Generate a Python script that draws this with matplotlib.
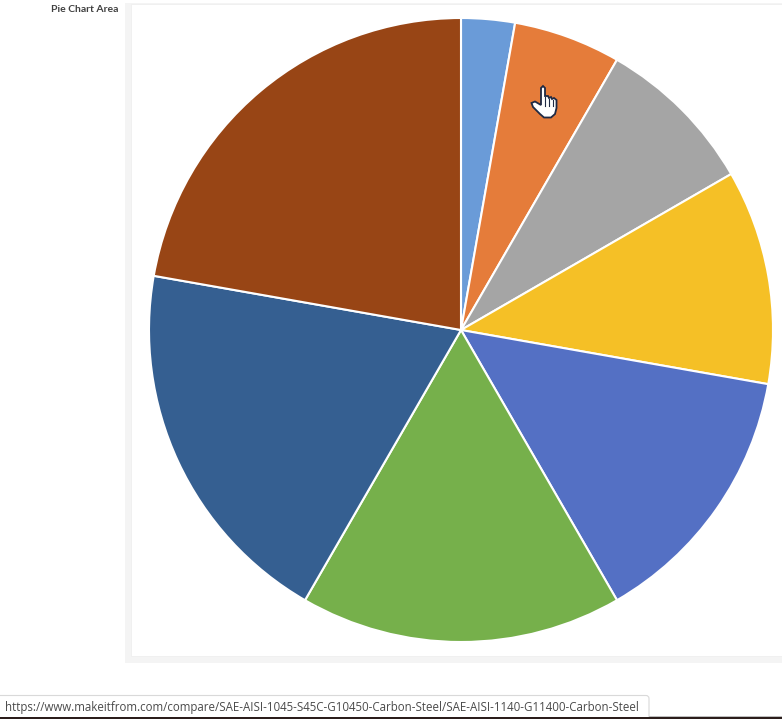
import matplotlib
matplotlib.use("Agg")
import matplotlib.pyplot as plt
from matplotlib.patches import Rectangle, Polygon, FancyBboxPatch

# slices, clockwise from 12 o'clock
values = [10, 20, 30, 40, 50, 60, 70, 80]
colors = ["#6A9BD8", "#E57C3A", "#A5A5A5", "#F5C026",
          "#5470C4", "#76B04B", "#355F91", "#984515"]
title = "Pie Chart Area"
status_url = "https://www.makeitfrom.com/compare/SAE-AISI-1045-S45C-G10450-Carbon-Steel/SAE-AISI-1140-G11400-Carbon-Steel"

W, H = 782, 719
fig = plt.figure(figsize=(W / 100, H / 100), dpi=100, facecolor="white")

# overlay in pixel coordinates for the page furniture
bg = fig.add_axes([0, 0, 1, 1], zorder=0)
bg.set_xlim(0, W)
bg.set_ylim(H, 0)
bg.axis("off")

# grey frame and white plot area
bg.add_patch(Rectangle((125, 3), W - 125, 660, fc="#F4F4F4", ec="none"))
bg.add_patch(Rectangle((131, 4), W - 131, 652, fc="white", ec="#EFEFEF", lw=0.6))
bg.text(118, 9.5, title, ha="right", va="center", fontsize=7.5, fontweight="bold",
        family="Lato", color="#404040")

# pie
cx, cy, r = 461, 330, 312
ax = fig.add_axes([(cx - r) / W, 1 - (cy + r) / H, 2 * r / W, 2 * r / H], zorder=1)
ax.pie(values, colors=colors, startangle=90, counterclock=False, radius=1,
       wedgeprops={"edgecolor": "white", "linewidth": 1.5})
ax.set_xlim(-1, 1)
ax.set_ylim(-1, 1)
ax.axis("off")

# browser status bar and bottom strip, cursor on top
top = fig.add_axes([0, 0, 1, 1], zorder=2)
top.set_xlim(0, W)
top.set_ylim(H, 0)
top.axis("off")
top.patch.set_alpha(0)
top.add_patch(FancyBboxPatch((-5, 695.5), 654, 30, boxstyle="round,pad=0,rounding_size=3",
                             fc="white", ec="#D9D9D9", lw=0.8))
top.add_patch(Rectangle((0, 717), W, 2, fc="#2B1D1B", ec="none", zorder=3))
top.add_patch(Rectangle((649, 716), W - 649, 1, fc="#BDBDBD", ec="none", zorder=3))
top.text(5, 707, status_url, ha="left", va="center", fontsize=8.32, family="Open Sans",
         color="#4A4A4A")

hand = [(541, 88), (543, 86), (545, 88), (545, 96), (548, 96), (549, 98), (551, 97),
        (552, 99), (554, 98), (556.5, 100), (556.5, 108), (555, 114), (551, 117.5), (544, 117.5),
        (540, 114), (533, 107), (531.5, 103), (535, 101.5), (541, 105)]
top.add_patch(Polygon(hand, closed=True, fc="white", ec="#1F2A44", lw=1.3))
for xf, y0 in [(545, 97), (549, 99), (552.5, 100)]:
    top.plot([xf, xf], [y0, 106], color="#1F2A44", lw=0.8)

fig.savefig("out.png", dpi=100)
